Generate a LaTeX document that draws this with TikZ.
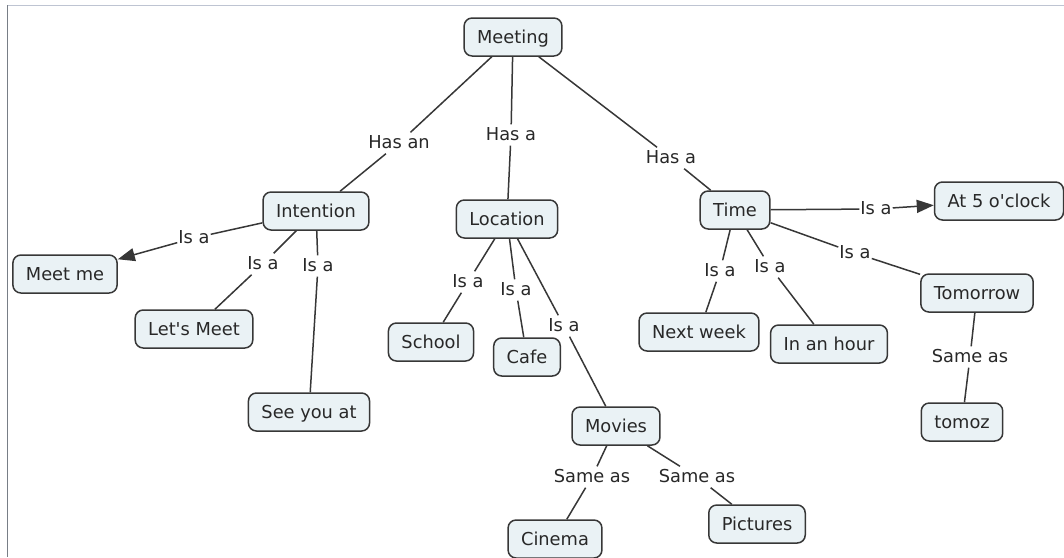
\documentclass[tikz,border=0pt]{standalone}
\usepackage{fontspec}
\setmainfont{DejaVu Sans}[Ligatures=TeXOff]
\usetikzlibrary{arrows.meta}
\definecolor{boxfill}{RGB}{234,242,245}
\definecolor{boxline}{RGB}{55,55,55}
\definecolor{inkcol}{RGB}{40,40,40}
\definecolor{frametop}{RGB}{190,196,210}
\definecolor{frameleft}{RGB}{120,126,134}
\tikzset{
  concept/.style={draw=boxline, fill=boxfill, line width=1.5pt, rounded corners=8pt,
    text=inkcol, inner xsep=13pt, inner ysep=0pt, minimum height=38pt,
    text height=15pt, text depth=3pt,
    font=\fontsize{17.8}{20}\selectfont},
  lbl/.style={fill=white, text=inkcol, inner xsep=1pt, inner ysep=2pt,
    text height=14pt, text depth=3pt,
    font=\fontsize{17.8}{20}\selectfont},
  link/.style={draw=boxline, line width=1.5pt},
  arrowlink/.style={link, -{Triangle[length=17pt,width=13pt]}}
}
\begin{document}
\begin{tikzpicture}[x=1pt,y=-1pt]
\useasboundingbox (0,0) rectangle (1064,557);
% frame lines
\draw[frametop, line width=1.5pt] (7,5.5) -- (1064,5.5);
\draw[frameleft, line width=1.5pt] (7.5,5) -- (7.5,557);

% concepts
\node[concept] (meeting) at (513,37) {Meeting};
\node[concept] (intention) at (316,211) {Intention};
\node[concept] (location) at (507,219) {Location};
\node[concept] (time) at (735,210) {Time};
\node[concept] (atfive) at (999,201) {At 5 o'clock};
\node[concept] (meetme) at (65,274) {Meet me};
\node[concept] (letsmeet) at (194,329) {Let's Meet};
\node[concept] (seeyou) at (309,412) {See you at};
\node[concept] (school) at (431,342) {School};
\node[concept] (cafe) at (527,357) {Cafe};
\node[concept] (movies) at (616,426) {Movies};
\node[concept] (cinema) at (555,539) {Cinema};
\node[concept] (pictures) at (757,524) {Pictures};
\node[concept] (nextweek) at (699,332) {Next week};
\node[concept] (inhour) at (829,344) {In an hour};
\node[concept] (tomorrow) at (977,293) {Tomorrow};
\node[concept] (tomoz) at (962,422) {tomoz};

% linking phrases
\node[lbl] (hasan) at (399,143) {Has an};
\node[lbl] (hasloc) at (511,135) {Has a};
\node[lbl] (hastime) at (671,158) {Has a};
\node[lbl] (isameet) at (194,238) {Is a};
\node[lbl] (isalets) at (263,264) {Is a};
\node[lbl] (isasee) at (318,266) {Is a};
\node[lbl] (isaschool) at (468,282) {Is a};
\node[lbl] (isacafe) at (516,290) {Is a};
\node[lbl] (isamovies) at (564,326) {Is a};
\node[lbl] (samecinema) at (592,477) {Same as};
\node[lbl] (samepict) at (697,477) {Same as};
\node[lbl] (isafive) at (876,209) {Is a};
\node[lbl] (isanext) at (720,271) {Is a};
\node[lbl] (isahour) at (770,267) {Is a};
\node[lbl] (isatomorrow) at (855,253) {Is a};
\node[lbl] (sametomoz) at (970,357) {Same as};

% connections
\draw[link] (meeting) -- (hasan) -- (intention);
\draw[link] (meeting) -- (hasloc) -- (location);
\draw[link] (meeting) -- (hastime) -- (time);
\draw[link] (intention) -- (isameet);
\draw[arrowlink] (isameet) -- (meetme);
\draw[link] (intention) -- (isalets) -- (letsmeet);
\draw[link] (intention) -- (isasee) -- (seeyou);
\draw[link] (location) -- (isaschool) -- (school);
\draw[link] (location) -- (isacafe) -- (cafe);
\draw[link] (location) -- (isamovies) -- (movies);
\draw[link] (movies) -- (samecinema) -- (cinema);
\draw[link] (movies) -- (samepict) -- (pictures);
\draw[link] (time) -- (isafive);
\draw[arrowlink] (isafive) -- (atfive);
\draw[link] (time) -- (isanext) -- (nextweek);
\draw[link] (time) -- (isahour) -- (inhour);
\draw[link] (time) -- (isatomorrow) -- (tomorrow);
\draw[link] (tomorrow) -- (sametomoz) -- (tomoz);
\end{tikzpicture}
\end{document}
